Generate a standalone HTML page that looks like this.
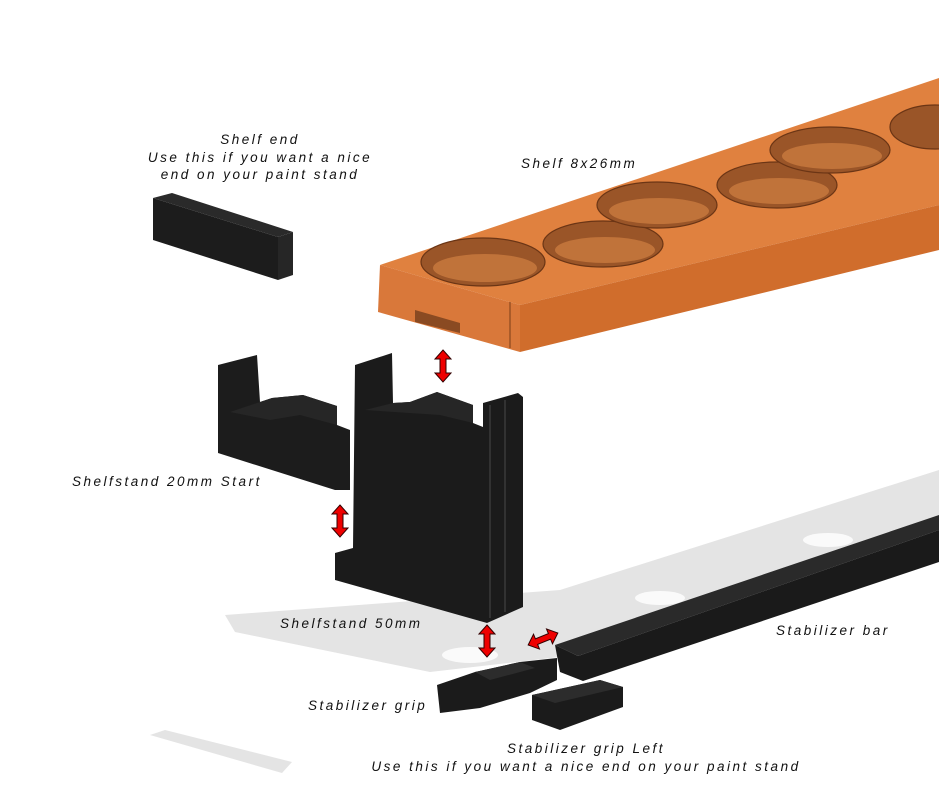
<!DOCTYPE html>
<html><head><meta charset="utf-8"><style>
html,body{margin:0;padding:0;background:#fff;}
svg{display:block}
text{font-family:"Liberation Sans",sans-serif;font-style:italic;font-size:13.5px;letter-spacing:2.5px;fill:#111}
</style></head><body>
<svg width="939" height="804" viewBox="0 0 939 804" xmlns="http://www.w3.org/2000/svg">
<defs>
<g id="varrow"><path d="M0,-16 L8,-7 L3,-7 L3,7 L8,7 L0,16 L-8,7 L-3,7 L-3,-7 L-8,-7 Z" fill="#e00" stroke="#300" stroke-width="1"/></g>
</defs>
<polygon points="225,615 560,590 939,470 939,562 620,650 430,672 235,632" fill="#e4e4e4"/>
<ellipse cx="660" cy="598" rx="25" ry="7" fill="#fafafa"/>
<ellipse cx="828" cy="540" rx="25" ry="7" fill="#fafafa"/>
<ellipse cx="470" cy="655" rx="28" ry="8" fill="#fafafa"/>
<polygon points="150,735 165,730 292,762 282,773" fill="#e4e4e4"/>
<polygon points="153,198 172,193 293,232 278,237" fill="#2a2a2a"/>
<polygon points="153,198 278,237 278,280 153,240" fill="#1c1c1c"/>
<polygon points="278,237 293,232 293,275 278,280" fill="#262626"/>
<polygon points="380,265 939,78 939,205 520,305" fill="#e0813f"/>
<polygon points="520,305 939,205 939,250 520,352" fill="#d06d2c"/>
<polygon points="380,265 520,305 520,352 378,312" fill="#d9783a"/>
<polygon points="415,310 460,323 460,333 415,322" fill="#8a4a22"/>
<line x1="510" y1="302" x2="510" y2="348" stroke="#7a3e18"/>
<g fill="#9a5528" stroke="#6b3515" stroke-width="1.2">
<ellipse cx="483" cy="262" rx="62" ry="24"/>
<ellipse cx="603" cy="244" rx="60" ry="23"/>
<ellipse cx="657" cy="205" rx="60" ry="23"/>
<ellipse cx="777" cy="185" rx="60" ry="23"/>
<ellipse cx="830" cy="150" rx="60" ry="23"/>
<ellipse cx="935" cy="127" rx="45" ry="22"/>
</g>
<g fill="#c0733a">
<ellipse cx="485" cy="268" rx="52" ry="14"/>
<ellipse cx="605" cy="250" rx="50" ry="13"/>
<ellipse cx="659" cy="211" rx="50" ry="13"/>
<ellipse cx="779" cy="191" rx="50" ry="13"/>
<ellipse cx="832" cy="156" rx="50" ry="13"/>
</g>
<polygon points="218,365 257,355 260,402 272,398 303,395 337,406 337,425 350,430 350,490 335,490 218,453" fill="#1c1c1c"/>
<polygon points="230,412 260,402 272,398 303,395 337,406 337,425 300,415 270,420" fill="#262626"/>
<polygon points="355,365 392,353 393,403 410,402 437,392 473,405 473,423 483,427 483,403 518,393 523,397 523,607 487,623 335,580 335,553 353,548" fill="#1b1b1b"/>
<polygon points="365,410 393,403 410,402 437,392 473,405 473,423 440,415" fill="#262626"/>
<line x1="490" y1="405" x2="490" y2="618" stroke="#3a3a3a" stroke-width="1.5"/>
<line x1="505" y1="400" x2="505" y2="612" stroke="#3a3a3a" stroke-width="1.5"/>
<polygon points="555,645 939,515 939,530 578,656" fill="#2a2a2a"/>
<polygon points="578,656 939,530 939,562 583,681 560,672 555,645" fill="#1a1a1a"/>
<polygon points="437,685 475,672 520,662 557,658 557,680 530,693 480,708 440,713" fill="#1b1b1b"/>
<polygon points="475,672 520,662 535,668 490,680" fill="#2c2c2c"/>
<polygon points="532,695 600,680 623,687 623,707 560,730 532,720" fill="#1b1b1b"/>
<polygon points="532,695 600,680 623,687 555,703" fill="#2c2c2c"/>
<use href="#varrow" x="443" y="366"/>
<use href="#varrow" x="340" y="521"/>
<use href="#varrow" x="487" y="641"/>
<g transform="translate(543,639) rotate(-22)"><path d="M-16,0 L-7,-8 L-7,-3 L7,-3 L7,-8 L16,0 L7,8 L7,3 L-7,3 L-7,8 Z" fill="#e00" stroke="#300" stroke-width="1"/></g>
<text x="260" y="144" text-anchor="middle">Shelf end</text>
<text x="260" y="162" text-anchor="middle">Use this if you want a nice</text>
<text x="260" y="179" text-anchor="middle">end on your paint stand</text>
<text x="521" y="168">Shelf 8x26mm</text>
<text x="72" y="486">Shelfstand 20mm Start</text>
<text x="280" y="628">Shelfstand 50mm</text>
<text x="776" y="635">Stabilizer bar</text>
<text x="308" y="710">Stabilizer grip</text>
<text x="586" y="753" text-anchor="middle">Stabilizer grip Left</text>
<text x="586" y="771" text-anchor="middle">Use this if you want a nice end on your paint stand</text>
</svg>
</body></html>
